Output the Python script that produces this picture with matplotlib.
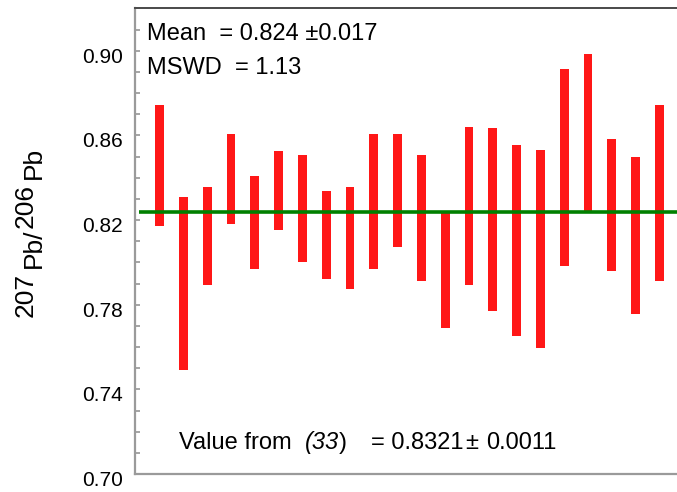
import matplotlib
matplotlib.use("Agg")
import matplotlib.pyplot as plt
import matplotlib.transforms as mtransforms
from matplotlib.ticker import MultipleLocator, FixedLocator
import numpy as np

plt.rcParams['font.family'] = ['Liberation Sans', 'DejaVu Sans']

# ---- data ----
analysis = list(range(1, 23))
upper = [0.8745, 0.8309, 0.8356, 0.8608, 0.8408, 0.8526, 0.8506, 0.8336,
         0.8356, 0.8608, 0.8608, 0.8506, 0.8232, 0.8640, 0.8635, 0.8556,
         0.8531, 0.8914, 0.8986, 0.8583, 0.8498, 0.8745]
lower = [0.8172, 0.7490, 0.7893, 0.8180, 0.7970, 0.8153, 0.8003, 0.7920,
         0.7873, 0.7970, 0.8074, 0.7912, 0.7691, 0.7893, 0.7770, 0.7652,
         0.7594, 0.7984, 0.8238, 0.7958, 0.7756, 0.7912]
mean_value = 0.824
major_ticks = [0.70, 0.74, 0.78, 0.82, 0.86, 0.90]
tick_labels = ["0.70", "0.74", "0.78", "0.82", "0.86", "0.90"]

W, H = 677, 492
fig = plt.figure(figsize=(W / 100, H / 100), dpi=100)
ax = fig.add_axes([135.3 / W, 18 / H, 1 - 135.3 / W, (474 - 7.5) / H])

heights = np.array(upper) - np.array(lower)
ax.bar(analysis, heights, bottom=lower, width=0.37, color='#ff1717',
       edgecolor='none', zorder=2)
ax.plot([0.15, 22.744], [mean_value, mean_value], color='#008000', lw=2.6,
        zorder=3, solid_capstyle='butt')

ax.set_xlim(-0.026, 22.744)
ax.set_ylim(0.70, 0.9204)
ax.set_xticks([])
ax.yaxis.set_major_locator(FixedLocator(major_ticks))
ax.set_yticklabels(tick_labels)
ax.yaxis.set_minor_locator(MultipleLocator(0.01))
ax.tick_params(axis='y', which='both', direction='in', length=3.4, width=1.1,
               color='#8c8c8c', labelsize=15, pad=9)

for side in ['left', 'bottom']:
    ax.spines[side].set_color('#9a9a9a')
    ax.spines[side].set_linewidth(1.6)
ax.spines['top'].set_color('#4a4a4a')
ax.spines['top'].set_linewidth(1.4)
ax.spines['right'].set_visible(False)

offset = mtransforms.ScaledTranslation(0, -4.5 / 100, fig.dpi_scale_trans)
for lab in ax.get_yticklabels():
    lab.set_transform(lab.get_transform() + offset)

def ftext(xpx, ypx, s, **kw):
    fig.text(xpx / W, (H - ypx) / H, s, va='baseline', ha='left', **kw)

# annotations
ftext(147, 40, "Mean  = 0.824 ±0.017", fontsize=17)
ftext(147, 74, "MSWD  = 1.13", fontsize=17)
ftext(179, 449, "Value from", fontsize=17)
ftext(305, 449, "(33", fontsize=17, style='italic')
ftext(339, 449, ")", fontsize=17)
ftext(371, 449, "= 0.8321", fontsize=17)
ftext(465, 449, "±", fontsize=17)
ftext(486, 449, "0.0011", fontsize=17)

# y label pieces (rotated)
def ylab(xpx, ypx, s):
    fig.text(xpx / W, (H - ypx) / H, s, rotation=90, rotation_mode='anchor',
             ha='left', va='baseline', fontsize=19)

ylab(32.5, 317, "207")
ylab(40.7, 268, "Pb/")
ylab(32.5, 228, "206")
ylab(40.7, 179, "Pb")

fig.savefig("out.png", dpi=100)
